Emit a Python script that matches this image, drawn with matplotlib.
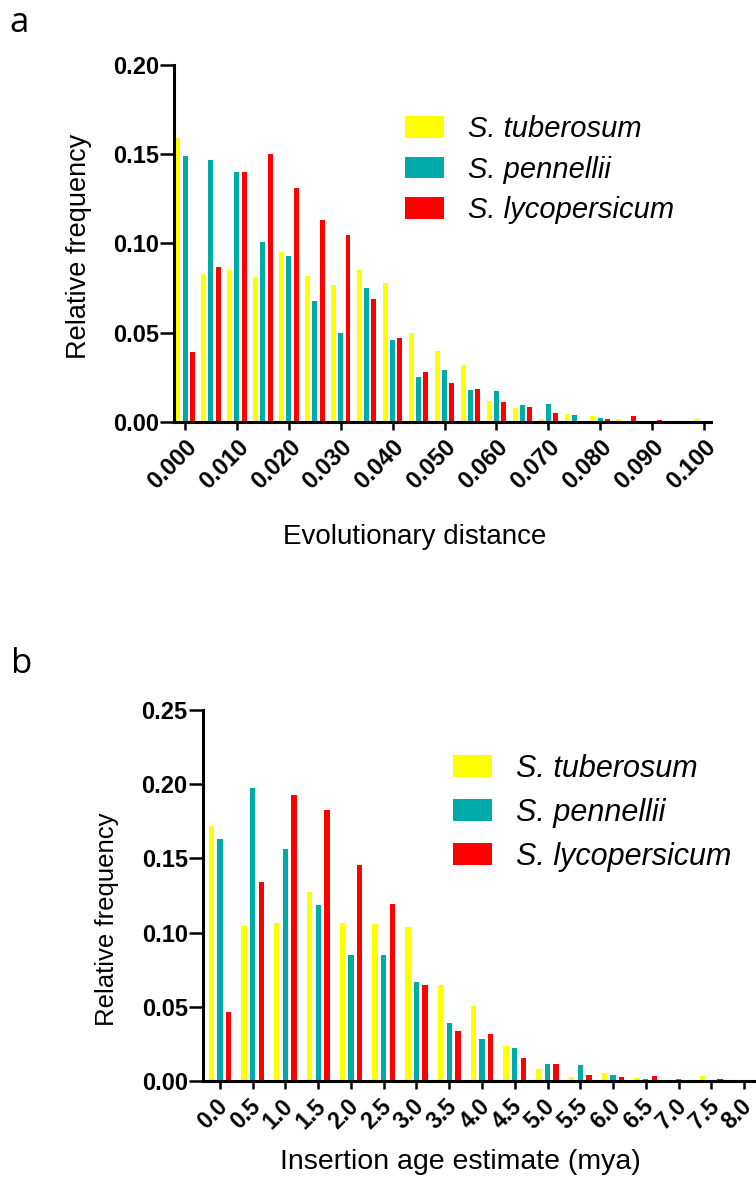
import matplotlib
matplotlib.use('Agg')
import matplotlib.pyplot as plt
import matplotlib.transforms as mtransforms
import numpy as np
from matplotlib.patches import Patch

plt.rcParams['font.family'] = ['Liberation Sans', 'DejaVu Sans']

species = ['S. tuberosum', 'S. pennellii', 'S. lycopersicum']
colores = ['#FFFF00', '#00AAA6', '#FF0000']

#---------------------------------- panel a: evolutionary distance ----------------------------------
dist_bins = np.linspace(0, 0.100, 21)
dist_ticks = ['0.000', '0.010', '0.020', '0.030', '0.040', '0.050',
              '0.060', '0.070', '0.080', '0.090', '0.100']
tuberosum_a = [0.159, 0.083, 0.085, 0.081, 0.095, 0.082, 0.077, 0.085, 0.078, 0.050, 0.040,
               0.032, 0.012, 0.008, 0.0015, 0.0045, 0.0032, 0.0017, 0.0, 0.0006, 0.0017]
pennellii_a = [0.149, 0.147, 0.140, 0.101, 0.093, 0.068, 0.050, 0.075, 0.046, 0.025, 0.029,
               0.018, 0.0175, 0.0095, 0.010, 0.0037, 0.0024, 0.0, 0.0, 0.0008, 0.0]
lycopersicum_a = [0.039, 0.087, 0.140, 0.150, 0.131, 0.113, 0.105, 0.069, 0.047, 0.028, 0.022,
                  0.0186, 0.0113, 0.0084, 0.0052, 0.0, 0.0018, 0.0035, 0.001, 0.0, 0.0]

#---------------------------------- panel b: insertion age ----------------------------------
age_bins = np.linspace(0, 8.0, 17)
age_ticks = ['0.0', '0.5', '1.0', '1.5', '2.0', '2.5', '3.0', '3.5', '4.0',
             '4.5', '5.0', '5.5', '6.0', '6.5', '7.0', '7.5', '8.0']
tuberosum_b = [0.172, 0.1045, 0.1067, 0.1274, 0.1067, 0.106, 0.1038, 0.065, 0.0508,
               0.0234, 0.0084, 0.003, 0.0052, 0.002, 0.0, 0.0032, 0.0]
pennellii_b = [0.1633, 0.1977, 0.1561, 0.1186, 0.0851, 0.0847, 0.0665, 0.039, 0.0285,
               0.0223, 0.0114, 0.0105, 0.0041, 0.0011, 0.0011, 0.0005, 0.0]
lycopersicum_b = [0.0463, 0.1341, 0.1927, 0.1824, 0.1453, 0.1195, 0.0647, 0.0335, 0.0314,
                  0.0152, 0.0114, 0.0041, 0.0027, 0.0035, 0.0005, 0.0011, 0.0]


def panel(ax, bins, series, offset, width, ticks, step, xlim, ylim, yticks, xfs):
    for k, vals in enumerate(series):
        ax.bar(bins + (k - 1) * offset, vals, width=width, color=colores[k], linewidth=0)
    ax.set_xlim(*xlim)
    ax.set_ylim(*ylim)
    ax.set_xticks(bins[::step])
    ax.set_xticklabels(ticks, rotation=45, ha='right', va='top', rotation_mode='anchor',
                       fontsize=xfs, fontweight='bold')
    ax.set_yticks(yticks)
    ax.set_yticklabels(['%.2f' % t for t in yticks], fontsize=17, fontweight='bold')
    for s in ['top', 'right']:
        ax.spines[s].set_visible(False)
    for s in ['left', 'bottom']:
        ax.spines[s].set_linewidth(2.2)
    ax.tick_params(axis='y', length=10, width=1.8, pad=1)
    ax.tick_params(axis='x', length=6, width=1.8, pad=4)


def leyenda(ax, pos, size, spacing):
    handles = [Patch(facecolor=c, edgecolor='none') for c in colores]
    fs = size * 100 / 72.0
    ax.legend(handles, species, loc='upper left', bbox_to_anchor=pos,
              bbox_transform=ax.figure.transFigure, frameon=False, borderpad=0, borderaxespad=0,
              prop={'style': 'italic', 'size': size}, handlelength=39 / fs, handleheight=22 / fs,
              handletextpad=24 / fs, labelspacing=spacing)


fig = plt.figure(figsize=(7.56, 11.93), dpi=100)

ax1 = fig.add_axes([0.2302, 0.6463, 0.7103, 0.2992])
panel(ax1, dist_bins, [tuberosum_a, pennellii_a, lycopersicum_a], 0.0014, 0.00096, dist_ticks, 2,
      (-0.00212, 0.10135), (0, 0.20), [0, 0.05, 0.10, 0.15, 0.20], 17)
ax1.set_ylabel('Relative frequency', fontsize=19.5)
ax1.yaxis.set_label_coords(-0.153, 0.493)
ax1.set_xlabel('Evolutionary distance', fontsize=20)
ax1.xaxis.set_label_coords(0.449, -0.286)
leyenda(ax1, (405 / 756, 1 - 115 / 1193), 21, 0.43)

ax2 = fig.add_axes([0.2685, 0.0939, 0.7315, 0.311])
panel(ax2, age_bins, [tuberosum_b, pennellii_b, lycopersicum_b], 0.133, 0.083, age_ticks, 1,
      (-0.2595, 8.183), (0, 0.25), [0, 0.05, 0.10, 0.15, 0.20, 0.25], 16.5)
shift = mtransforms.ScaledTranslation(-4 / 100, 0, fig.dpi_scale_trans)
for lab in ax2.get_xticklabels():
    lab.set_transform(lab.get_transform() + shift)
ax2.set_ylabel('Relative frequency', fontsize=18.5)
ax2.yaxis.set_label_coords(-0.152, 0.435)
ax2.set_xlabel('Insertion age estimate (mya)', fontsize=20.5)
ax2.xaxis.set_label_coords(0.465, -0.183)
leyenda(ax2, (453 / 756, 1 - 754 / 1193), 22, 0.45)

fig.text(0.013, 0.973, 'a', fontsize=25, family='Open Sans')
fig.text(0.015, 0.436, 'b', fontsize=25, family='Open Sans')

fig.savefig('out.png', dpi=100)
